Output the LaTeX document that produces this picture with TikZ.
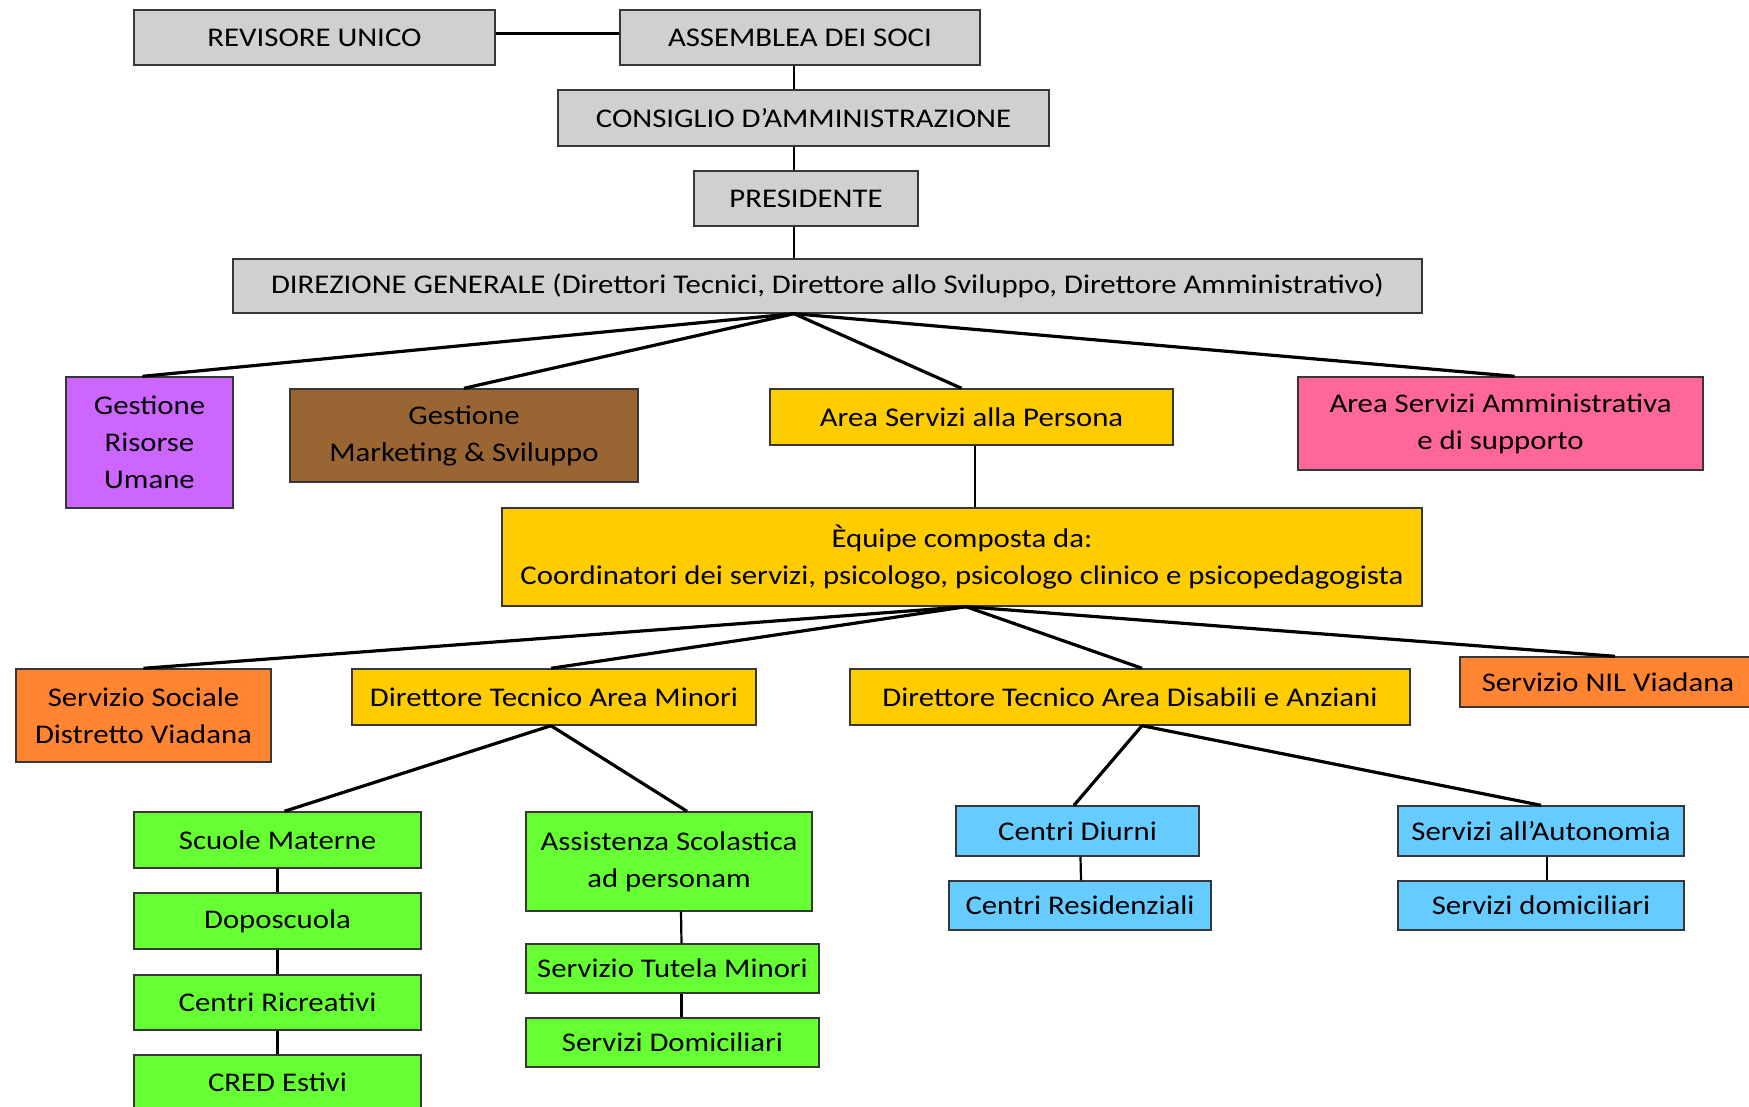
\documentclass[tikz,border=0pt]{standalone}
\usepackage{fontspec}
\setmainfont{Carlito}[FakeStretch=1.14]
\definecolor{cgrey}{RGB}{208,208,208}
\definecolor{cpurple}{RGB}{204,102,255}
\definecolor{cbrown}{RGB}{153,102,51}
\definecolor{cyellow}{RGB}{255,204,0}
\definecolor{cpink}{RGB}{255,102,153}
\definecolor{corange}{RGB}{255,133,51}
\definecolor{cgreen}{RGB}{102,255,51}
\definecolor{cblue}{RGB}{102,204,255}
\definecolor{cborder}{RGB}{55,55,55}
\tikzset{
  box/.style={draw=cborder, line width=1.4pt, inner sep=0pt, align=center,
    font=\fontsize{27}{37}\selectfont},
  diag/.style={draw=black, line width=3.2pt},
  vert/.style={draw=black, line width=2.2pt},
}
\begin{document}
\begin{tikzpicture}[x=1pt,y=-1pt]
\path[use as bounding box] (0,0) rectangle (1749,1107);
\clip (0,0) rectangle (1749,1107);
\fill[white] (0,0) rectangle (1749,1107);
% top grey chain
\node[box, fill=cgrey, minimum width=361pt, minimum height=55pt] (rev) at (314.5,37.5) {REVISORE UNICO};
\node[box, fill=cgrey, minimum width=360pt, minimum height=55pt] (ass) at (800,37.5) {ASSEMBLEA DEI SOCI};
\node[box, fill=cgrey, minimum width=491pt, minimum height=56pt] (cda) at (803.5,118) {CONSIGLIO D’AMMINISTRAZIONE};
\node[box, fill=cgrey, minimum width=224pt, minimum height=55pt] (pres) at (806,198.5) {PRESIDENTE};
\node[box, fill=cgrey, minimum width=1189pt, minimum height=54pt] (dir) at (827.5,286) {DIREZIONE GENERALE (Direttori Tecnici, Direttore allo Sviluppo, Direttore Amministrativo)};
% second level
\node[box, fill=cpurple, minimum width=167pt, minimum height=131pt] (gru) at (149.5,442.5) {Gestione\\Risorse\\Umane};
\node[box, fill=cbrown, minimum width=348pt, minimum height=93pt] (gms) at (464,435.5) {Gestione\\Marketing \& Sviluppo};
\node[box, fill=cyellow, minimum width=403pt, minimum height=56pt] (asp) at (971.5,417) {Area Servizi alla Persona};
\node[box, fill=cpink, minimum width=405pt, minimum height=93pt] (asa) at (1500.5,423.5) {Area Servizi Amministrativa\\e di supporto};
\node[box, fill=cyellow, minimum width=920pt, minimum height=98pt] (equ) at (962,557) {Èquipe composta da:\\Coordinatori dei servizi, psicologo, psicologo clinico e psicopedagogista};
% third level
\node[box, fill=corange, minimum width=255pt, minimum height=93pt] (sss) at (143.5,715.5) {Servizio Sociale\\Distretto Viadana};
\node[box, fill=cyellow, minimum width=404pt, minimum height=56pt] (dtm) at (554,697) {Direttore Tecnico Area Minori};
\node[box, fill=cyellow, minimum width=560pt, minimum height=56pt] (dtd) at (1130,697) {Direttore Tecnico Area Disabili e Anziani};
\node[box, fill=corange, minimum width=296pt, minimum height=50pt] (nil) at (1608,682) {Servizio NIL Viadana};
% minori
\node[box, fill=cgreen, minimum width=287pt, minimum height=56pt] (scm) at (277.5,840) {Scuole Materne};
\node[box, fill=cgreen, minimum width=287pt, minimum height=56pt] (dop) at (277.5,921) {Doposcuola};
\node[box, fill=cgreen, minimum width=287pt, minimum height=55pt] (cri) at (277.5,1002.5) {Centri Ricreativi};
\node[box, fill=cgreen, minimum width=287pt, minimum height=55pt] (cre) at (277.5,1082.5) {CRED Estivi};
\node[box, fill=cgreen, minimum width=286pt, minimum height=99pt] (asc) at (669,861.5) {Assistenza Scolastica\\ad personam};
\node[box, fill=cgreen, minimum width=293pt, minimum height=49pt] (stm) at (672.5,968.5) {Servizio Tutela Minori};
\node[box, fill=cgreen, minimum width=293pt, minimum height=49pt] (sdo) at (672.5,1042.5) {Servizi Domiciliari};
% disabili
\node[box, fill=cblue, minimum width=243pt, minimum height=50pt] (cdi) at (1077.5,831) {Centri Diurni};
\node[box, fill=cblue, minimum width=262pt, minimum height=49pt] (cres) at (1080,905.5) {Centri Residenziali};
\node[box, fill=cblue, minimum width=286pt, minimum height=50pt] (sau) at (1541,831) {Servizi all’Autonomia};
\node[box, fill=cblue, minimum width=286pt, minimum height=49pt] (sdm) at (1541,905.5) {Servizi domiciliari};
% connectors
\coordinate (spine) at (794,0);
\draw[draw=black, line width=3.6pt] ([yshift=4pt]rev.east) -- ([yshift=4pt]ass.west);
\draw[vert] (ass.south -| spine) -- (cda.north -| spine);
\draw[vert] (cda.south -| spine) -- (pres.north -| spine);
\draw[vert] (pres.south -| spine) -- (dir.north -| spine);
\draw[diag] (dir.south -| spine) -- ([xshift=-7pt]gru.north);
\draw[diag] (dir.south -| spine) -- (gms.north);
\draw[diag] (dir.south -| spine) -- ([xshift=-10pt]asp.north);
\draw[diag] (dir.south -| spine) -- ([xshift=14pt]asa.north);
\draw[vert] ([xshift=3.5pt]asp.south) -- ([xshift=13pt]equ.north);
\draw[diag] ([xshift=4pt]equ.south) -- (sss.north);
\draw[diag] ([xshift=4pt]equ.south) -- ([xshift=-3pt]dtm.north);
\draw[diag] ([xshift=4pt]equ.south) -- ([xshift=12pt]dtd.north);
\draw[diag] ([xshift=4pt]equ.south) -- ([xshift=7pt]nil.north);
\draw[diag] ([xshift=-3pt]dtm.south) -- ([xshift=7pt]scm.north);
\draw[diag] ([xshift=-3pt]dtm.south) -- ([xshift=18pt]asc.north);
\draw[diag] ([xshift=12pt]dtd.south) -- ([xshift=-3.5pt]cdi.north);
\draw[diag] ([xshift=12pt]dtd.south) -- (sau.north);
\draw[vert] (scm) -- (dop);
\draw[vert] (dop) -- (cri);
\draw[vert] (cri) -- (cre);
\draw[vert] ([xshift=12pt]asc.south) -- ([xshift=9pt]stm.north);
\draw[vert] ([xshift=9pt]stm.south) -- ([xshift=9pt]sdo.north);
\draw[vert] ([xshift=3pt]cdi.south) -- ([xshift=1pt]cres.north);
\draw[vert] ([xshift=6pt]sau.south) -- ([xshift=6pt]sdm.north);
\end{tikzpicture}
\end{document}
